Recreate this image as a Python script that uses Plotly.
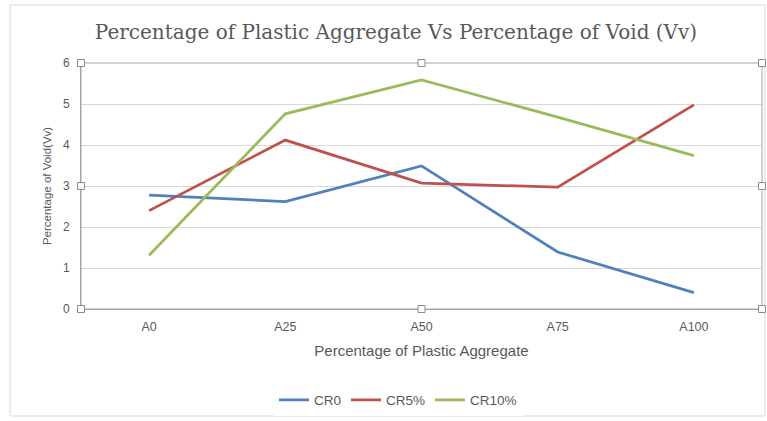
import plotly.graph_objects as go

# Categories and series values
categories = ["A0", "A25", "A50", "A75", "A100"]
cr0 = [2.78, 2.62, 3.49, 1.39, 0.40]
cr5 = [2.40, 4.12, 3.07, 2.97, 4.98]
cr10 = [1.31, 4.76, 5.59, 4.68, 3.74]
y_ticks = [0, 1, 2, 3, 4, 5, 6]

series = [
    ("CR0", cr0, "#4F81BD"),
    ("CR5%", cr5, "#C0504D"),
    ("CR10%", cr10, "#9BBB59"),
]

fig = go.Figure()
for name, vals, color in series:
    fig.add_trace(go.Scatter(
        x=categories, y=vals, name=name, mode="lines",
        line=dict(color=color, width=2.75),
    ))

W, H = 767, 421
L, R, T, B = 81, 5, 63, 112

sans = "Liberation Sans, Arial, sans-serif"
grey = "#595959"

fig.update_layout(
    width=W, height=H,
    margin=dict(l=L, r=R, t=T, b=B),
    paper_bgcolor="white", plot_bgcolor="white",
    title=dict(
        text="Percentage of Plastic Aggregate Vs Percentage of Void (Vv)",
        font=dict(family="DejaVu Serif, serif", size=20, color=grey),
        x=396 / W, xanchor="center", xref="container", y=1 - 32 / H, yanchor="middle",
    ),
    xaxis=dict(
        type="category", range=[-0.5, 4.5],
        showgrid=False, showline=True, linecolor="#a6a6a6", linewidth=1,
        ticks="", tickfont=dict(family=sans, size=12.5, color=grey),
        ticklabelstandoff=6,
        title=dict(text="Percentage of Plastic Aggregate",
                   font=dict(family=sans, size=15, color=grey),
                   standoff=12),
        zeroline=False,
    ),
    yaxis=dict(
        range=[0, 6], tickvals=y_ticks, showgrid=True, gridcolor="#d9d9d9", gridwidth=1,
        showline=True, linecolor="#a6a6a6", linewidth=1,
        ticks="", tickfont=dict(family=sans, size=12, color=grey), ticklabelstandoff=8,
        title=dict(text="Percentage of Void(Vv)",
                   font=dict(family=sans, size=11.5, color=grey),
                   standoff=8),
        zeroline=False,
    ),
    legend=dict(
        orientation="h", x=(398 - L) / (W - L - R), xanchor="center",
        y=-(400 - 309) / (H - T - B),
        yanchor="middle", font=dict(family=sans, size=13.5, color=grey),
        itemwidth=30, tracegroupgap=0,
    ),
    showlegend=True,
)

# Plot-area frame and outer chart frame
fig.add_shape(type="rect", xref="paper", yref="paper", x0=0, y0=0, x1=1, y1=1,
              line=dict(color="#a6a6a6", width=1), fillcolor="rgba(0,0,0,0)", layer="above")

def px_to_paper_x(px):
    return (px - L) / (W - L - R)

def px_to_paper_y(py):
    return (H - B - py) / (H - T - B)

fig.add_shape(type="rect", xref="paper", yref="paper",
              x0=px_to_paper_x(10), y0=px_to_paper_y(416),
              x1=px_to_paper_x(765), y1=px_to_paper_y(5),
              line=dict(color="#d9d9d9", width=1), fillcolor="rgba(0,0,0,0)", layer="below")

# Selection handles on the plot-area frame
for hx, hy in [(0, 0), (0.5, 0), (1, 0), (0, 0.5), (1, 0.5), (0, 1), (0.5, 1), (1, 1)]:
    cx = L + hx * (W - L - R)
    cy = H - B - hy * (H - T - B)
    fig.add_shape(type="rect", xref="paper", yref="paper",
                  x0=px_to_paper_x(cx - 3.5), x1=px_to_paper_x(cx + 3.5),
                  y0=px_to_paper_y(cy + 3.5), y1=px_to_paper_y(cy - 3.5),
                  line=dict(color="#8c8c8c", width=1), fillcolor="white", layer="above")

fig.write_html("out.html")
